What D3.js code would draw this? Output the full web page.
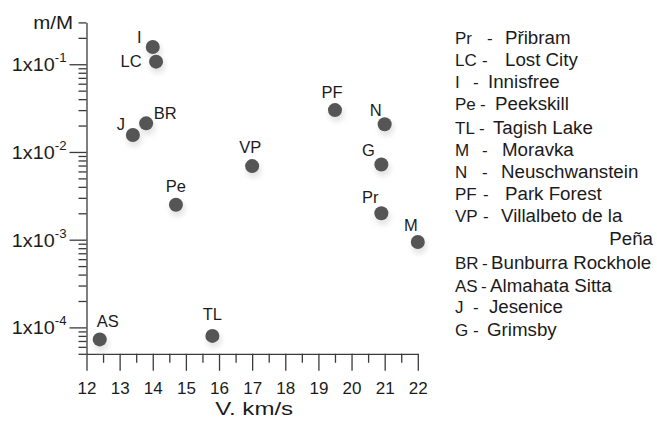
<!DOCTYPE html>
<html>
<head>
<meta charset="utf-8">
<script src="https://cdn.jsdelivr.net/npm/d3@7"></script>
<style>
  html, body { margin: 0; padding: 0; background: #fff; }
  svg { display: block; font-family: "Liberation Sans", Arial, sans-serif; }
</style>
</head>
<body>
<svg id="chart" width="657" height="423"></svg>
<script>
// Meteorite fall data: entry velocity (km/s) and surviving mass fraction m/M
const codes = ["Pr", "LC", "I", "Pe", "TL", "M", "N", "PF", "VP", "BR", "AS", "J", "G"];
const names = ["Přibram", "Lost City", "Innisfree", "Peekskill", "Tagish Lake", "Moravka",
               "Neuschwanstein", "Park Forest", "Villalbeto de la|Peña", "Bunburra Rockhole",
               "Almahata Sitta", "Jesenice", "Grimsby"];
const velocity  = [20.9, 14.1, 14.0, 14.7, 15.8, 22.0, 21.0, 19.5, 17.0, 13.8, 12.4, 13.4, 20.9];
const massRatio = [0.0020, 0.107, 0.157, 0.0025, 0.00008, 0.00094, 0.0207, 0.030, 0.0069,
                   0.0212, 0.000073, 0.0156, 0.0072];
const xTicks = [12, 13, 14, 15, 16, 17, 18, 19, 20, 21, 22];
const yMajorTicks = [1e-4, 1e-3, 1e-2, 1e-1];
const yExponents = ["-4", "-3", "-2", "-1"];

const svg = d3.select("#chart");
const ink = "#1b1b1b";
const axisInk = "#3a3a3a";

// plot frame
const frame = { left: 86.5, right: 417.8, top: 22.4, bottom: 353.8 };

const x = d3.scaleLinear().domain([12, 22]).range([frame.left, frame.right]);
const y = d3.scaleLog().domain([5e-5, 0.3]).range([frame.bottom, frame.top]);

// widen a text element horizontally about its own anchor point
function stretch(sel, sx) {
  sel.each(function() {
    const t = d3.select(this);
    const tx = +t.attr("x") || 0, ty = +t.attr("y") || 0;
    t.attr("x", 0).attr("y", 0)
     .attr("transform", `translate(${tx},${ty}) scale(${sx},1)`);
  });
}

// minor ticks: 2..9 of every decade inside the domain, and half-units on x
const yMinor = [];
for (let e = -5; e <= -1; e++) {
  for (let k = 2; k <= 9; k++) {
    const v = k * Math.pow(10, e);
    if (v >= 5e-5 * 0.999 && v <= 0.3 * 1.001) yMinor.push(v);
  }
}
const xMinor = xTicks.slice(0, -1).map(t => t + 0.5);

function styleAxis(g) {
  g.selectAll("path.domain").attr("stroke", axisInk).attr("stroke-width", 1.3);
  g.selectAll(".tick line").attr("stroke", axisInk).attr("stroke-width", 1.3);
}

// Y axis
const yMinorG = svg.append("g").attr("transform", `translate(${frame.left},0)`)
  .call(d3.axisLeft(y).tickValues(yMinor).tickSize(8).tickSizeOuter(0).tickFormat(""));
styleAxis(yMinorG);

const yMajorG = svg.append("g").attr("transform", `translate(${frame.left},0)`)
  .call(d3.axisLeft(y).tickValues(yMajorTicks).tickSize(17).tickSizeOuter(0).tickPadding(3));
styleAxis(yMajorG);
yMajorG.select("path.domain").remove();
yMajorG.selectAll(".tick text").each(function(d, i) {
  const t = d3.select(this).text(null)
    .attr("font-size", 18).attr("fill", ink).attr("font-family", null)
    .attr("dy", "0.36em");
  t.append("tspan").text("1x10");
  t.append("tspan").attr("font-size", 12).attr("dy", "-0.75em").text(yExponents[i]);
});
stretch(yMajorG.selectAll(".tick text"), 1.1);

// X axis
const xMinorG = svg.append("g").attr("transform", `translate(0,${frame.bottom})`)
  .call(d3.axisBottom(x).tickValues(xMinor).tickSize(9).tickSizeOuter(0).tickFormat(""));
styleAxis(xMinorG);

const xMajorG = svg.append("g").attr("transform", `translate(0,${frame.bottom})`)
  .call(d3.axisBottom(x).tickValues(xTicks).tickSize(17).tickSizeOuter(0).tickPadding(11)
        .tickFormat(d3.format("d")));
styleAxis(xMajorG);
xMajorG.select("path.domain").remove();
xMajorG.selectAll(".tick text").attr("font-size", 17).attr("fill", ink).attr("font-family", null);

// axis titles
svg.append("text").attr("x", 73).attr("y", 29).attr("text-anchor", "end")
  .attr("font-size", 19).attr("fill", ink).text("m/M")
  .call(stretch, 1.08);
svg.append("text").attr("x", x(17) + 2).attr("y", 415).attr("text-anchor", "middle")
  .attr("font-size", 18.5).attr("fill", ink).text("V. km/s")
  .call(stretch, 1.3);

// data points
const points = codes.map((c, i) => ({ code: c, v: velocity[i], m: massRatio[i] }));

const defs = svg.append("defs");
defs.append("filter").attr("id", "soft").attr("x", "-50%").attr("y", "-50%")
  .attr("width", "200%").attr("height", "200%")
  .append("feGaussianBlur").attr("stdDeviation", 0.6);
defs.append("filter").attr("id", "halo").attr("x", "-80%").attr("y", "-80%")
  .attr("width", "260%").attr("height", "260%")
  .append("feGaussianBlur").attr("stdDeviation", 2.5);

svg.append("g").selectAll("circle").data(points).join("circle")
  .attr("cx", d => x(d.v) + 1.5).attr("cy", d => y(d.m) + 4)
  .attr("r", 8).attr("fill", "#e6e6e6").attr("filter", "url(#halo)");

svg.append("g").selectAll("circle").data(points).join("circle")
  .attr("cx", d => x(d.v)).attr("cy", d => y(d.m))
  .attr("r", 7).attr("fill", "#555557").attr("filter", "url(#soft)");

// point labels, offset from their markers
const labelOffset = {
  I: [-13.5, -4.5], LC: [-25, 5.7], BR: [19, -4.3], J: [-12, -5], Pe: [0, -13],
  AS: [8, -12], TL: [0, -16], PF: [-3, -12], N: [-9, -8], VP: [-2, -13],
  G: [-13, -8], Pr: [-11, -10], M: [-7, -11]
};
svg.append("g").selectAll("text").data(points).join("text")
  .attr("x", d => x(d.v) + labelOffset[d.code][0])
  .attr("y", d => y(d.m) + labelOffset[d.code][1])
  .attr("text-anchor", "middle").attr("font-size", 16.5).attr("fill", ink)
  .text(d => d.code);

// legend rows: baseline, dash x, name x
const legendRows = [
  [44, 487, 505], [66, 482, 505], [88, 473, 488], [110, 480, 495], [134, 479, 493],
  [156, 482, 502], [178, 482, 501], [200, 483, 505], [222, 483, 501], [269, 482, 491],
  [292, 481, 490], [313, 473, 489], [336, 473, 487]
];
const legend = svg.append("g").attr("fill", ink);
codes.forEach((c, i) => {
  const [ly, dashX, nameX] = legendRows[i];
  const parts = names[i].split("|");
  legend.append("text").attr("x", 455).attr("y", ly).attr("font-size", 17).text(c);
  legend.append("text").attr("x", dashX).attr("y", ly).attr("font-size", 17).text("-");
  legend.append("text").attr("x", nameX).attr("y", ly).attr("font-size", 18)
    .text(parts[0]).call(stretch, 1.04);
  if (parts[1]) {
    legend.append("text").attr("x", 653).attr("y", ly + 23).attr("font-size", 18)
      .attr("text-anchor", "end").text(parts[1]).call(stretch, 1.04);
  }
});
</script>
</body>
</html>
